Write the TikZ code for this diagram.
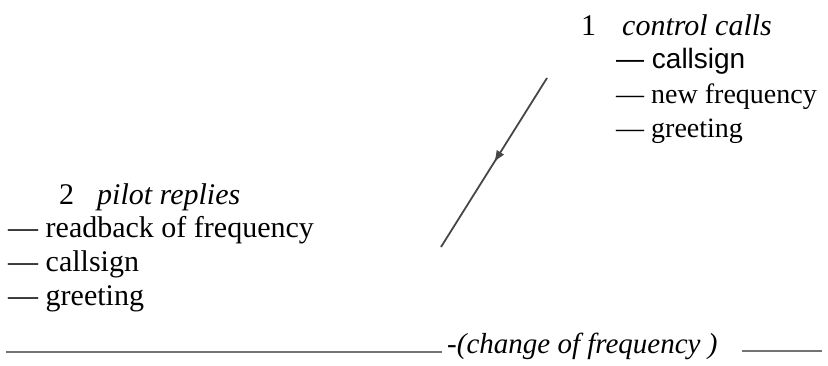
\documentclass[tikz,border=0pt]{standalone}
\usepackage{fontspec}
\setmainfont{Liberation Serif}
\newfontfamily\arialfont{Liberation Sans}
\usetikzlibrary{arrows.meta,decorations.markings}

\begin{document}
\begin{tikzpicture}[x=1pt, y=-1pt,
    txt/.style={anchor=base west, inner sep=0pt, font=\fontsize{28}{34}\selectfont},
    bigtxt/.style={anchor=base west, inner sep=0pt, font=\fontsize{30}{34}\selectfont},
    sanstxt/.style={anchor=base west, inner sep=0pt, font=\arialfont\fontsize{28}{34}\selectfont},
    rule/.style={black!55, line width=2pt},
    midarrow/.style={black!72, line width=1.8pt, postaction={decorate},
      decoration={markings, mark=at position 0.5 with {\arrow{Latex[length=12pt, width=9pt]}}}}]
    \useasboundingbox (0,0) rectangle (828,365);
    % control calls
    \node[bigtxt] (C0) at (581,35) {1\hspace{26pt}\textit{control calls}};
    \node[sanstxt] (C1) at (616,68) {— callsign};
    \node[txt] (C2) at (616,103) {— new frequency};
    \node[txt] (C3) at (616,137) {— greeting};
    % pilot replies
    \node[bigtxt] (P0) at (59,204) {2\hspace{23pt}\textit{pilot replies}};
    \node[bigtxt] (P1) at (8,237) {— readback of frequency};
    \node[bigtxt] (P2) at (8,271) {— callsign};
    \node[bigtxt] (P3) at (8,305) {— greeting};
    % arrow between the two
    \coordinate (A1) at (547,78);
    \coordinate (A2) at (441,247);
    \draw[midarrow] (A1) -- (A2);
    % frequency change
    \coordinate (L0) at (6,352);
    \coordinate (L1) at (442,352);
    \coordinate (R0) at (742,351);
    \coordinate (R1) at (822,351);
    \node[txt, font=\fontsize{29}{34}\selectfont\itshape] (F) at (447,353) {-(change of frequency )};
    \draw[rule] (L0) -- (L1);
    \draw[rule] (R0) -- (R1);
  \end{tikzpicture}
\end{document}
